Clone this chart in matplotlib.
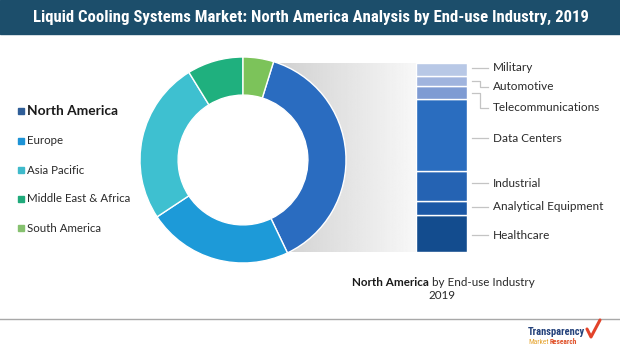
import numpy as np
import matplotlib
matplotlib.use("Agg")
import matplotlib.pyplot as plt
from matplotlib import font_manager
from matplotlib.patches import Rectangle, Circle

# region split of the donut (share in %)
regions = ["North America", "Europe", "Asia Pacific", "Middle East & Africa", "South America"]
region_share = [38.1, 22.8, 25.5, 8.8, 4.8]
region_colors = ["#2a6cc0", "#1d9ad8", "#3ec0d0", "#1fb07e", "#7cc35a"]
legend_colors = ["#2f5e98", "#1d93d6", "#3fbacb", "#20aa7b", "#86c16f"]

# North America by end-use industry, bottom to top (%)
industries = ["Healthcare", "Analytical Equipment", "Industrial", "Data Centers",
              "Telecommunications", "Automotive", "Military"]
industry_share = [19.5, 7.3, 15.9, 38.1, 7.4, 4.9, 6.9]
industry_colors = ["#134c8e", "#1b58a6", "#2563b3", "#2a6dbf", "#7e9bd3", "#a0b4de", "#b8c8e6"]
label_shift = [-1.0, 0.7, 1.5, -1.6, -8.2, -3.2, 1.0]

title = "Liquid Cooling Systems Market: North America Analysis by End-use Industry, 2019"

W, H = 620, 356


def pick_font(candidates):
    names = {f.name for f in font_manager.fontManager.ttflist}
    for c in candidates:
        if c in names:
            return c
    return "DejaVu Sans"


body_font = pick_font(["Lato", "Liberation Sans"])
narrow_font = pick_font(["Roboto Condensed", "Liberation Sans Narrow", "DejaVu Sans"])


def px_box(x0, y0, x1, y1):
    # pixel box (top-left origin) -> figure fraction rect
    return [x0 / W, 1 - y1 / H, (x1 - x0) / W, (y1 - y0) / H]


fig = plt.figure(figsize=(W / 100, H / 100), dpi=100)
fig.patch.set_facecolor("white")

# background axes in pixel coordinates
ax_bg = fig.add_axes([0, 0, 1, 1])
ax_bg.axis("off")

# title band
ax_bg.add_patch(Rectangle((0, 0), W, 34, color="#1c4e6b", zorder=1))
t = ax_bg.text(311, 17.5, title, color="white", fontsize=12, fontweight="bold",
               family=narrow_font, fontstretch="condensed", ha="center", va="center", zorder=2)
renderer = fig.canvas.get_renderer()
ax_bg.set_xlim(0, W)
ax_bg.set_ylim(H, 0)
tw = t.get_window_extent(renderer).width
t.set_fontsize(12 * 555 / tw)

# grey gradient linking the donut to the bar
grad = np.linspace(0.80, 0.97, 200).reshape(1, -1)
ax_bg.imshow(grad, extent=(262, 416, 251.7, 63.3), cmap="gray", vmin=0, vmax=1,
             aspect="auto", zorder=0)

# bottom rule
ax_bg.plot([0, W], [319, 319], color="#a8a8a8", lw=1)

# legend
legend_y = [110.7, 141, 170, 199, 228]
for i, (name, col) in enumerate(zip(regions, legend_colors)):
    y = legend_y[i]
    ax_bg.add_patch(Rectangle((18, y - 3), 6, 6, color=col))
    if i == 0:
        ax_bg.text(27, y, name, fontsize=9.9, fontweight="bold", color="#1a1a1a",
                   family=body_font, va="center")
    else:
        ax_bg.text(27, y, name, fontsize=8.3, color="#2a2a2a", family=body_font, va="center")

# caption under the bar
ax_bg.text(428.5, 282.3, "North America", fontsize=8.4, fontweight="bold", color="#1a1a1a",
           family=body_font, ha="right", va="center")
ax_bg.text(431.5, 282.3, "by End-use Industry", fontsize=8.4, color="#2a2a2a",
           family=body_font, ha="left", va="center")
ax_bg.text(442, 295.5, "2019", fontsize=8.4, color="#2a2a2a", family=body_font,
           ha="center", va="center")

# logo
ax_bg.text(528, 332, "Transparency", fontsize=7.6, fontweight="bold", color="#23417a",
           family=narrow_font, fontstretch="condensed", ha="left", va="center")
ax_bg.text(528, 342.5, "Market", fontsize=5.3, color="#e6a531", family=narrow_font,
           ha="left", va="center")
ax_bg.text(550, 342.5, "Research", fontsize=5.3, fontweight="bold", color="#e0522a",
           family=narrow_font, ha="left", va="center")
ax_bg.plot([587, 591, 600], [329, 337, 320], color="#e2432a", lw=2.2,
           solid_capstyle="round")
ax_bg.set_xlim(0, W)
ax_bg.set_ylim(H, 0)

# donut
ax_d = fig.add_axes(px_box(140, 57, 346, 263))
ax_d.set_facecolor("none")
start = 90 - 360 * region_share[-1] / sum(region_share)
ax_d.pie(region_share, colors=region_colors, startangle=start, counterclock=False,
         radius=1, wedgeprops=dict(width=0.37, edgecolor="white", linewidth=1))
ax_d.add_patch(Circle((0, 0), 0.63, color="white", zorder=0.5))
ax_d.set_xlim(-1, 1)
ax_d.set_ylim(-1, 1)
ax_d.set_aspect("equal")
ax_d.axis("off")

# stacked bar
ax_b = fig.add_axes(px_box(416, 63.3, 467, 251.7))
bottoms = np.concatenate([[0], np.cumsum(industry_share)[:-1]])
ax_b.bar(0, industry_share, bottom=bottoms, width=1, color=industry_colors,
         edgecolor="white", linewidth=1)
ax_b.set_xlim(-0.5, 0.5)
ax_b.set_ylim(0, sum(industry_share))
ax_b.axis("off")

tr = ax_b.get_yaxis_transform()
for name, share, b, shift in zip(industries, industry_share, bottoms, label_shift):
    mid = b + share / 2
    ly = mid + shift
    if abs(shift) > 2:
        xs, ys = [1.09, 1.255, 1.255, 1.41], [mid, mid, ly, ly]
    else:
        xs, ys = [1.09, 1.41], [ly, ly]
    ax_b.plot(xs, ys, color="#c4c4c4", lw=0.9, transform=tr, clip_on=False)
    ax_b.text(1.51, ly, name, fontsize=8.5, color="#2a2a2a", family=body_font,
              transform=tr, ha="left", va="center")

fig.savefig("out.png", dpi=100)
